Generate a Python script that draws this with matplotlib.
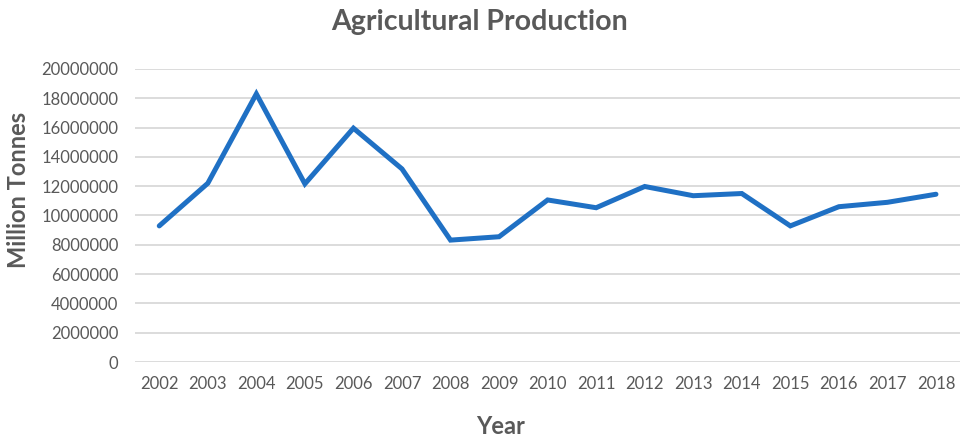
import matplotlib.pyplot as plt
import numpy as np

years = ['2002', '2003', '2004', '2005', '2006', '2007', '2008', '2009', '2010',
         '2011', '2012', '2013', '2014', '2015', '2016', '2017', '2018']
production = [9290000, 12200000, 18300000, 12160000, 15960000, 13180000, 8320000,
              8550000, 11060000, 10530000, 11980000, 11350000, 11500000, 9290000,
              10600000, 10900000, 11450000]
y_ticks = [0, 2000000, 4000000, 6000000, 8000000, 10000000, 12000000,
           14000000, 16000000, 18000000, 20000000]

plt.rcParams['font.family'] = ['Lato', 'DejaVu Sans']
grey = '#595959'

fig = plt.figure(figsize=(9.67, 4.38), dpi=100, facecolor='w')
ax = fig.add_axes([0.1396, 0.1735, 0.8534, 0.669])

x = np.arange(len(years))
ax.plot(x, production, color='#1f70c4', linewidth=3.6, solid_joinstyle='miter',
        solid_capstyle='round', zorder=3)

for s in ax.spines.values():
  s.set_visible(False)

ax.set_xlim(-0.5, len(years) - 0.5)
ax.set_ylim(0, 20000000)
ax.set_yticks(y_ticks)
ax.set_yticklabels([str(v) for v in y_ticks])
ax.set_xticks(x)
ax.set_xticklabels(years)
ax.yaxis.grid(True, color='#d9d9d9', linewidth=1.3)
ax.set_axisbelow(True)
ax.tick_params(length=0, labelsize=12, labelcolor=grey, pad=10)
ax.tick_params(axis='y', pad=12)

# titles placed on the figure, like the spreadsheet export
fig.text(0.496, 1 - 22 / 438, 'Agricultural Production', fontsize=20.5,
         fontweight='bold', color=grey, ha='center', va='center')
fig.text(0.518, 1 - 427 / 438, 'Year', fontsize=17, fontweight='bold',
         color=grey, ha='center', va='center')
fig.text(19 / 967, 1 - 190 / 438, 'Million Tonnes', fontsize=17,
         fontweight='bold', color=grey, ha='center', va='center', rotation=90)

fig.savefig('out.png', dpi=100, facecolor='w')
